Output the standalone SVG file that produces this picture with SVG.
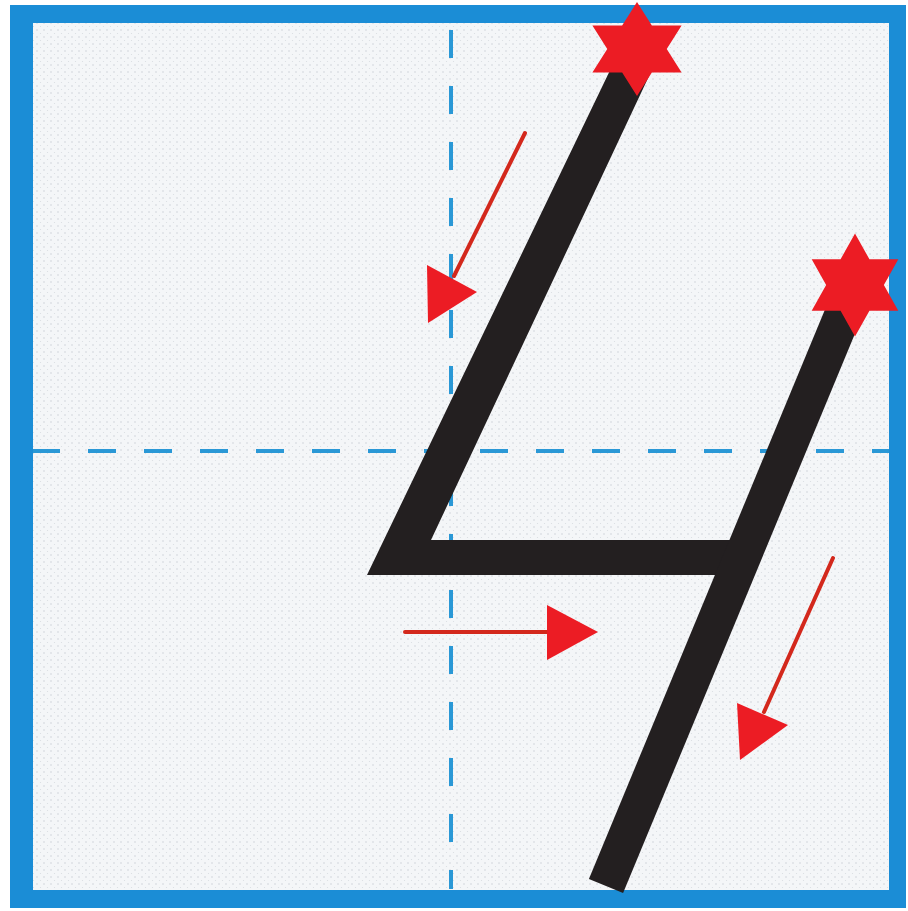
<svg xmlns="http://www.w3.org/2000/svg" width="908" height="911" viewBox="0 0 908 911">
  <style>
    .guide { stroke: #2a98d6; stroke-width: 4; stroke-dasharray: 28 28; fill: none; }
    .ink { fill: #231f20; }
    .star { fill: #ec1c24; }
    .shaft { stroke: #d3281c; stroke-width: 4; stroke-linecap: round; fill: none; }
    .head { fill: #ec1c24; }
  </style>
  <defs>
    <pattern id="dots" width="7" height="7" patternUnits="userSpaceOnUse">
      <rect width="7" height="7" fill="#f4f6f8"/>
      <circle cx="2" cy="2" r="0.7" fill="#b3bac2" opacity="0.7"/>
      <circle cx="5.5" cy="5.5" r="0.6" fill="#c4cad0" opacity="0.6"/>
    </pattern>
    <polygon id="hexstar" points="0,-50 14.43,-25 43.3,-25 28.87,0 43.3,25 14.43,25 0,50 -14.43,25 -43.3,25 -28.87,0 -43.3,-25 -14.43,-25"/>
  </defs>

  <rect width="908" height="911" fill="#ffffff"/>

  <g id="frame">
    <rect x="10" y="5" width="896" height="903" fill="#1b8dd6"/>
    <rect x="33" y="23" width="856" height="867" fill="url(#dots)"/>
  </g>

  <g id="guides">
    <line class="guide" x1="451" y1="24" x2="451" y2="889" stroke-dashoffset="50"/>
    <line class="guide" x1="33" y1="451" x2="889" y2="451" stroke-dashoffset="1"/>
  </g>

  <g id="stroke-1">
    <polygon class="ink" points="615,60 649,76 431,540 745,540 735,575 367,575"/>
  </g>

  <g id="stroke-2">
    <line x1="851" y1="295" x2="606" y2="886" stroke="#231f20" stroke-width="37"/>
  </g>

  <g id="star-1">
    <use href="#hexstar" class="star" transform="translate(637,49) scale(1.03,0.94)"/>
  </g>

  <g id="star-2">
    <use href="#hexstar" class="star" transform="translate(855,285) scale(1.0,1.03)"/>
  </g>

  <g id="connectors">
    <g id="arrow-1">
      <line class="shaft" x1="525" y1="133" x2="454" y2="276"/>
      <polygon class="head" points="427,265 477,292 428,323"/>
    </g>
    <g id="arrow-2">
      <line class="shaft" x1="405" y1="632" x2="550" y2="632"/>
      <polygon class="head" points="547,605 598,632 547,660"/>
    </g>
    <g id="arrow-3">
      <line class="shaft" x1="833" y1="558" x2="764" y2="712"/>
      <polygon class="head" points="737,703 788,725 740,760"/>
    </g>
  </g>
</svg>
